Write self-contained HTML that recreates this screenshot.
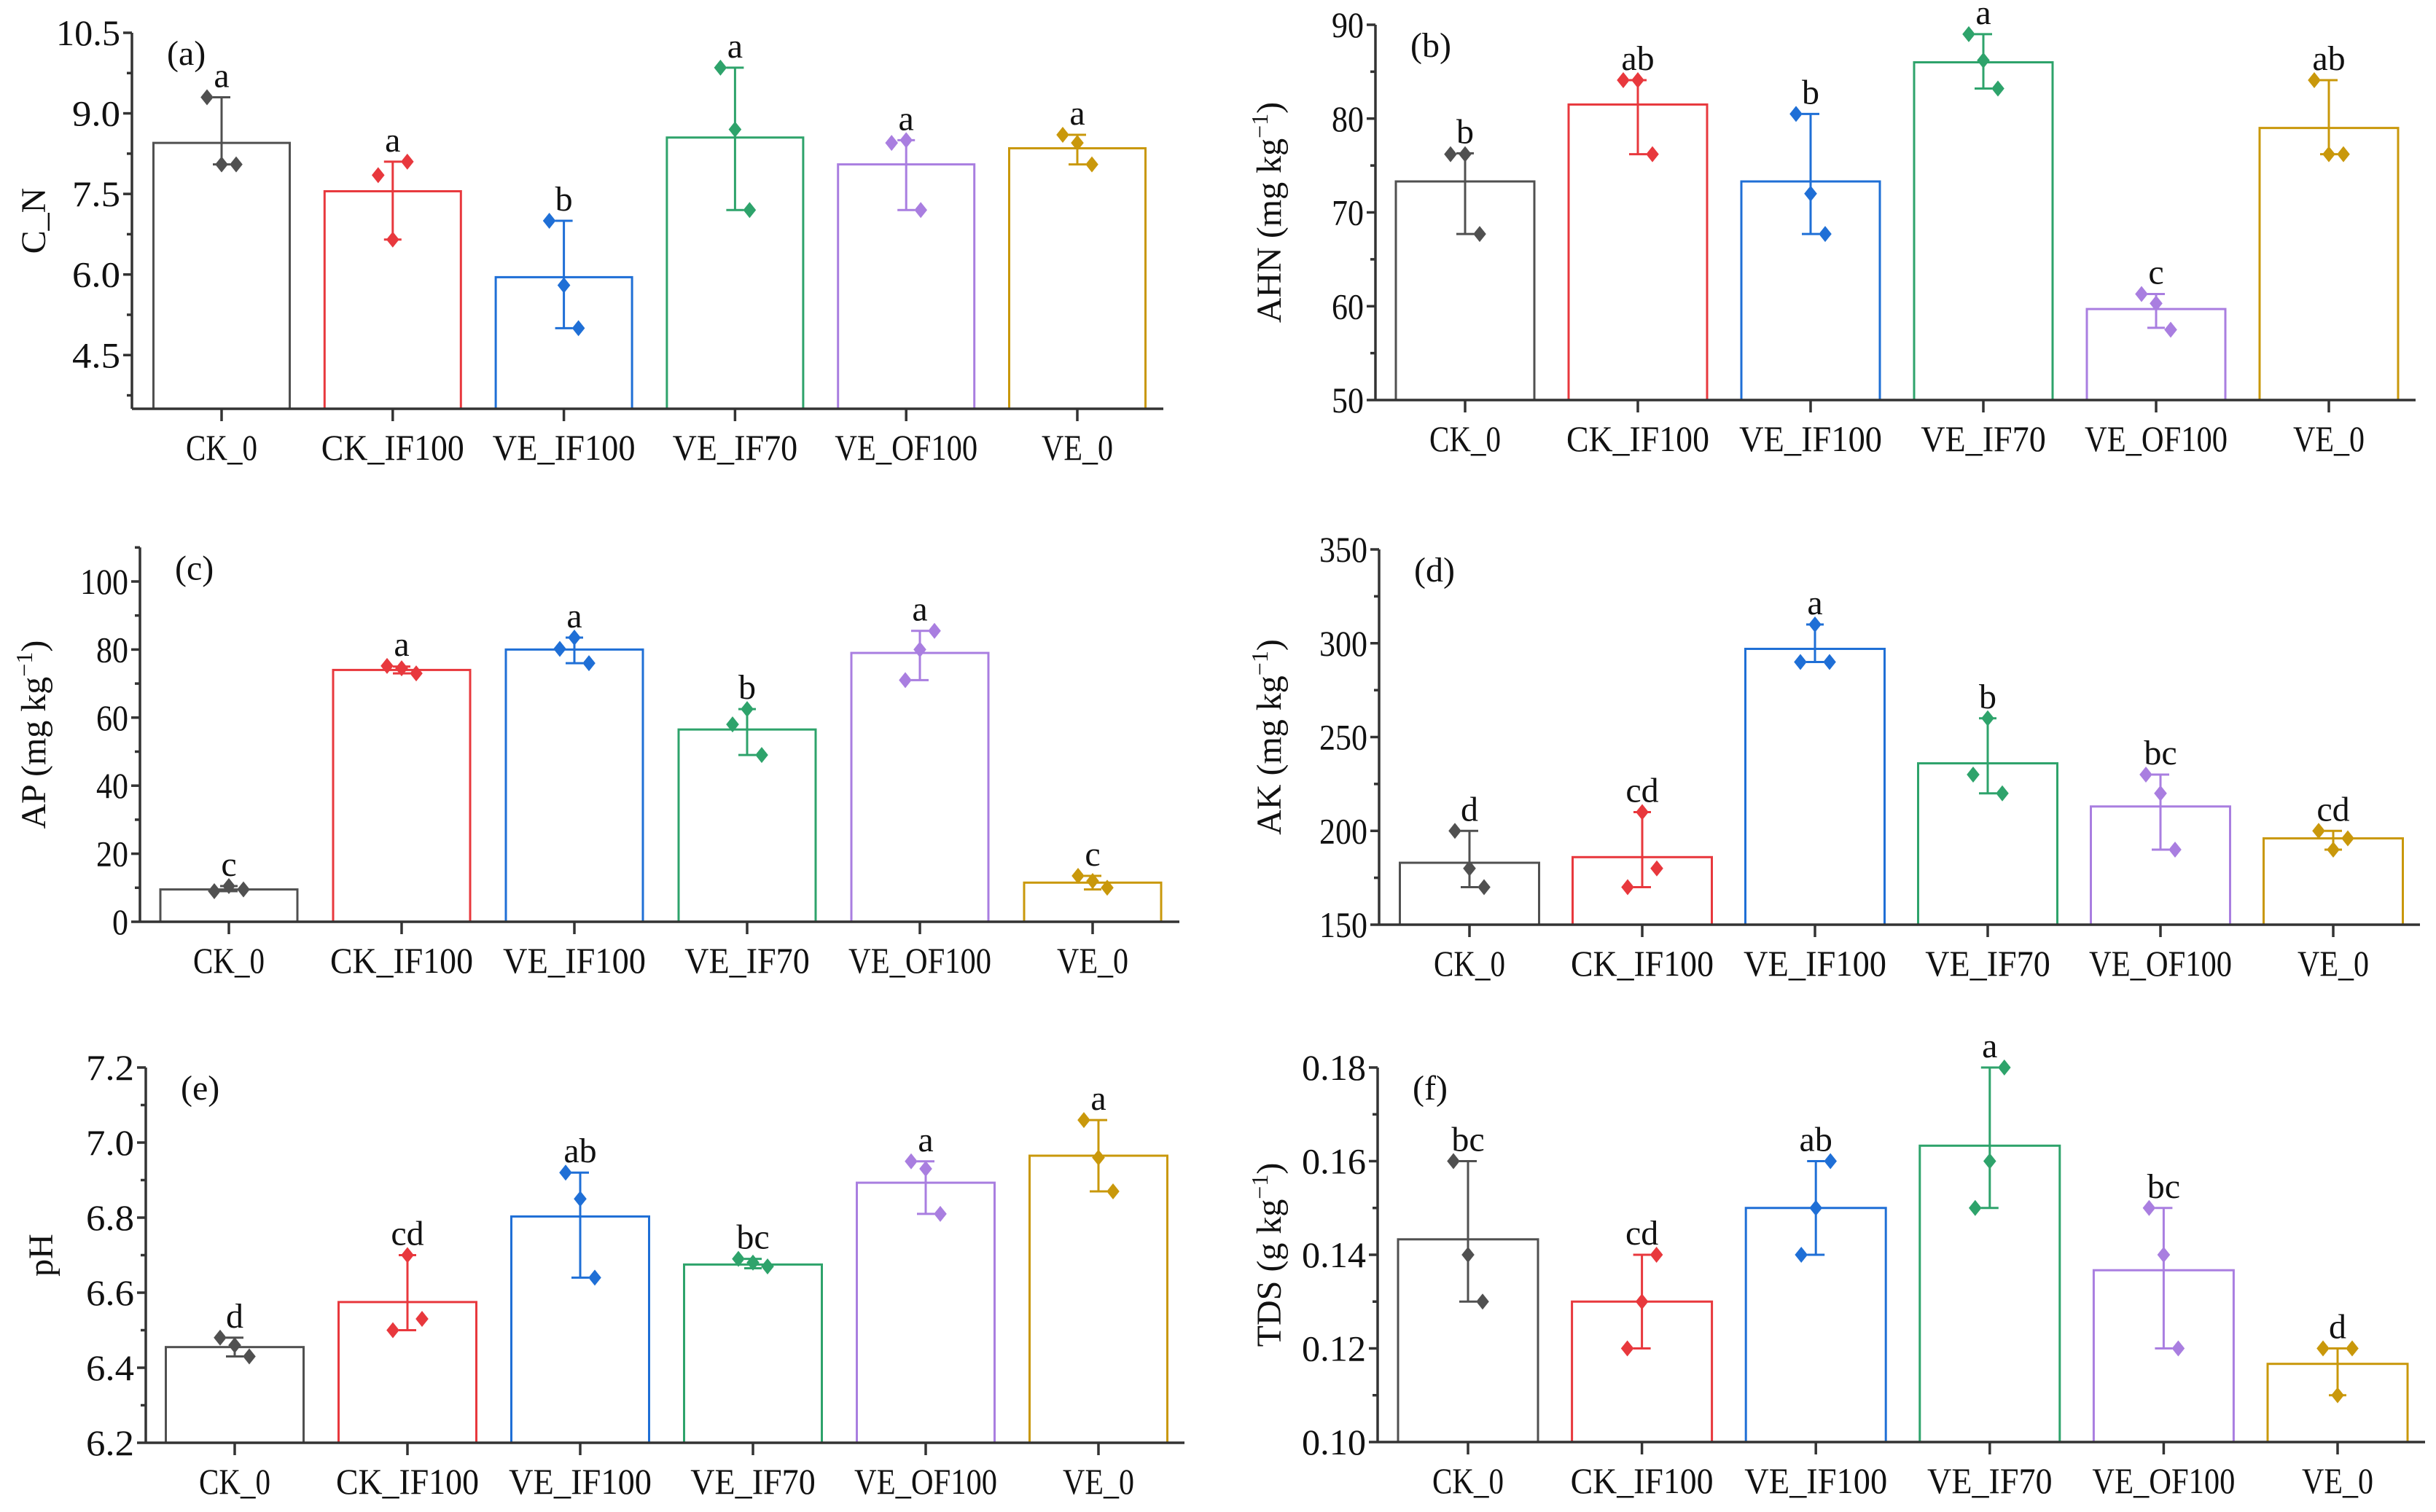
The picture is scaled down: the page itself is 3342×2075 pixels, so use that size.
<!DOCTYPE html>
<html><head><meta charset="utf-8"><style>
html,body{margin:0;padding:0;background:#fff;}
svg{display:block;}
text{font-family:"Liberation Serif","Noto Serif CJK SC",serif;fill:#111;}
</style></head><body>
<svg id="fig" xmlns="http://www.w3.org/2000/svg" width="3342" height="2075" viewBox="0 0 3342 2075"></svg>
<script>
const categories = ["CK_0","CK_IF100","VE_IF100","VE_IF70","VE_OF100","VE_0"];
const colors = ["#505050","#e8383d","#1f6fd6","#2ea36b","#a97ee0","#c9980b"];

// (a) C_N
const aMeans = [8.45,7.55,5.95,8.55,8.05,8.35];
const aPts = [[9.3,8.05,8.05],[7.85,6.65,8.1],[7.0,5.8,5.0],[9.85,8.7,7.2],[8.45,8.5,7.2],[8.6,8.45,8.05]];
const aErrHi = [9.3,8.1,7.0,9.85,8.5,8.6];
const aErrLo = [8.05,6.65,5.0,7.2,7.2,8.05];
const aLetters = ["a","a","b","a","a","a"];
const aTicks = [4.5,6.0,7.5,9.0,10.5];
const aTickLabels = ["4.5","6.0","7.5","9.0","10.5"];

// (b) AHN
const bMeans = [73.3,81.5,73.3,86.0,59.7,79.0];
const bPts = [[76.2,76.2,67.7],[84.1,84.1,76.2],[80.5,72.0,67.7],[89.0,86.2,83.2],[61.3,60.3,57.5],[84.1,76.2,76.2]];
const bErrHi = [76.3,84.1,80.5,89.0,61.3,84.1];
const bErrLo = [67.7,76.2,67.7,83.2,57.7,76.2];
const bLetters = ["b","ab","b","a","c","ab"];
const bTicks = [50,60,70,80,90];
const bTickLabels = ["50","60","70","80","90"];

// (c) AP
const cMeans = [9.5,74.0,80.0,56.5,79.0,11.5];
const cPts = [[9.0,10.5,9.5],[75.2,74.5,73.0],[80.2,83.5,76.0],[58.0,62.5,49.0],[71.0,80.0,85.5],[13.5,12.0,10.0]];
const cErrHi = [10.5,75.0,83.5,62.5,85.5,13.5];
const cErrLo = [9.0,73.0,76.0,49.0,71.0,9.5];
const cLetters = ["c","a","a","b","a","c"];
const cTicks = [0,20,40,60,80,100];
const cTickLabels = ["0","20","40","60","80","100"];

// (d) AK
const dMeans = [183,186,297,236,213,196];
const dPts = [[200,180,170],[170,210,180],[290,310,290],[230,260,220],[230,220,190],[200,190,196]];
const dErrHi = [200,210,310,260,230,200];
const dErrLo = [170,170,290,220,190,190];
const dLetters = ["d","cd","a","b","bc","cd"];
const dTicks = [150,200,250,300,350];
const dTickLabels = ["150","200","250","300","350"];

// (e) pH
const eMeans = [6.455,6.575,6.803,6.675,6.893,6.965];
const ePts = [[6.48,6.46,6.43],[6.50,6.70,6.53],[6.92,6.85,6.64],[6.69,6.68,6.67],[6.95,6.93,6.81],[7.06,6.96,6.87]];
const eErrHi = [6.48,6.70,6.92,6.69,6.95,7.06];
const eErrLo = [6.43,6.50,6.64,6.665,6.81,6.87];
const eLetters = ["d","cd","ab","bc","a","a"];
const eTicks = [6.2,6.4,6.6,6.8,7.0,7.2];
const eTickLabels = ["6.2","6.4","6.6","6.8","7.0","7.2"];

// (f) TDS
const fMeans = [0.1433,0.130,0.150,0.1633,0.1367,0.1167];
const fPts = [[0.16,0.14,0.13],[0.12,0.13,0.14],[0.14,0.15,0.16],[0.15,0.16,0.18],[0.15,0.14,0.12],[0.12,0.11,0.12]];
const fErrHi = [0.16,0.14,0.16,0.18,0.15,0.12];
const fErrLo = [0.13,0.12,0.14,0.15,0.12,0.11];
const fLetters = ["bc","cd","ab","a","bc","d"];
const fTicks = [0.10,0.12,0.14,0.16,0.18];
const fTickLabels = ["0.10","0.12","0.14","0.16","0.18"];

const NS="http://www.w3.org/2000/svg";
const svg=document.getElementById('fig');
function mk(tag,attrs,parent){const e=document.createElementNS(NS,tag);for(const k in attrs)e.setAttribute(k,attrs[k]);(parent||svg).appendChild(e);return e;}

const jit=[-20,0,20];

function panel(cfg){
  const g=mk('g',{});
  
  
  const y=v=>cfg.y0+(v-cfg.vmin)/(cfg.vmax-cfg.vmin)*(cfg.y1-cfg.y0);
  const x=i=>cfg.c0+i*cfg.step;
  const topV=cfg.vtop!==undefined?cfg.vtop:cfg.vmax;
  categories.forEach((c,i)=>{
    const r=mk('rect',{x:x(i)-cfg.bw/2,y:y(cfg.means[i]),width:cfg.bw,height:y(cfg.vmin)-y(cfg.means[i]),fill:'none',stroke:colors[i],'stroke-width':3});
    
    
    g.appendChild(r);
  });
  categories.forEach((c,i)=>{
    const eg=mk('g',{stroke:colors[i],'stroke-width':3},g);
    
    
    mk('line',{x1:x(i),x2:x(i),y1:y(cfg.hi[i]),y2:y(cfg.lo[i])},eg);
    mk('line',{x1:x(i)-12,x2:x(i)+12,y1:y(cfg.hi[i]),y2:y(cfg.hi[i])},eg);
    mk('line',{x1:x(i)-12,x2:x(i)+12,y1:y(cfg.lo[i]),y2:y(cfg.lo[i])},eg);
  });
  categories.forEach((c,i)=>{
    cfg.pts[i].forEach((v,k)=>{
      const px=x(i)+jit[k], py=y(v), s=11;
      const p=mk('path',{d:`M${px},${py-s}L${px+s*0.8},${py}L${px},${py+s}L${px-s*0.8},${py}Z`,fill:colors[i]},g);
      
      
    });
  });
  categories.forEach((c,i)=>{
    const t=mk('text',{x:x(i),y:y(Math.max(cfg.hi[i],...cfg.pts[i]))-14,'text-anchor':'middle','font-size':48},g);
    t.textContent=cfg.letters[i];
    
    
  });
  const ax=mk('g',{stroke:'#333','stroke-width':3.5},g);
  
  
  mk('line',{x1:cfg.ax,x2:cfg.ax,y1:y(topV),y2:y(cfg.vmin)},ax);
  mk('line',{x1:cfg.ax,x2:cfg.xend,y1:y(cfg.vmin),y2:y(cfg.vmin)},ax);
  categories.forEach((c,i)=>{mk('line',{x1:x(i),x2:x(i),y1:y(cfg.vmin),y2:y(cfg.vmin)+17},ax);});
  cfg.ticks.forEach((v,k)=>{
    mk('line',{x1:cfg.ax-12,x2:cfg.ax,y1:y(v),y2:y(v)},ax);
    if(k<cfg.ticks.length-1){const m=(v+cfg.ticks[k+1])/2;mk('line',{x1:cfg.ax-7,x2:cfg.ax,y1:y(m),y2:y(m)},ax);}
    const lbl=cfg.tickLabels[k];
    const t=mk('text',{x:cfg.ax-16,y:y(v)+17,'text-anchor':'end','font-size':50,textLength:lbl.length*22,lengthAdjust:'spacingAndGlyphs'},g);
    t.textContent=lbl;
    
    
  });
  if(topV>cfg.ticks[cfg.ticks.length-1]){const m=cfg.ticks[cfg.ticks.length-1]+(cfg.ticks[1]-cfg.ticks[0])/2;if(m<=topV)mk('line',{x1:cfg.ax-7,x2:cfg.ax,y1:y(m),y2:y(m)},ax);}
  if(cfg.vmin<cfg.ticks[0]){const m=cfg.ticks[0]-(cfg.ticks[1]-cfg.ticks[0])/2;if(m>=cfg.vmin)mk('line',{x1:cfg.ax-7,x2:cfg.ax,y1:y(m),y2:y(m)},ax);}
  categories.forEach((c,i)=>{
    const t=mk('text',{x:x(i),y:y(cfg.vmin)+70,'text-anchor':'middle','font-size':50,textLength:c.length*24.5,lengthAdjust:'spacingAndGlyphs'},g);
    t.textContent=c;
    
    
  });
  const lab=mk('text',{x:cfg.ax+48,y:y(topV)+44,'font-size':48},g);
  lab.textContent='('+cfg.id+')';
  
  
  const yt=mk('text',{x:0,y:0,'text-anchor':'middle','font-size':48,transform:`translate(${cfg.tx},${(y(topV)+y(cfg.vmin))/2}) rotate(-90)`},g);
  yt.innerHTML=cfg.title;
  
  
}
const unit=(n,u)=>`${n} (${u} kg<tspan dy="-18" font-size="32">−1</tspan><tspan dy="18">)</tspan>`;
panel({id:'a',means:aMeans,pts:aPts,hi:aErrHi,lo:aErrLo,letters:aLetters,ticks:aTicks,tickLabels:aTickLabels,vmin:3.5,vmax:10.5,y0:561,y1:45,ax:181,xend:1596,c0:304,step:234.8,bw:187,tx:62,title:'C_N'});
panel({id:'b',means:bMeans,pts:bPts,hi:bErrHi,lo:bErrLo,letters:bLetters,ticks:bTicks,tickLabels:bTickLabels,vmin:50,vmax:90,y0:549,y1:34,ax:1887,xend:3314,c0:2010,step:237,bw:190,tx:1757,title:unit('AHN','mg')});
panel({id:'c',means:cMeans,pts:cPts,hi:cErrHi,lo:cErrLo,letters:cLetters,ticks:cTicks,tickLabels:cTickLabels,vmin:0,vmax:100,vtop:110,y0:1265,y1:798,ax:192,xend:1618,c0:314,step:237,bw:188,tx:62,title:unit('AP','mg')});
panel({id:'d',means:dMeans,pts:dPts,hi:dErrHi,lo:dErrLo,letters:dLetters,ticks:dTicks,tickLabels:dTickLabels,vmin:150,vmax:350,y0:1269,y1:754,ax:1892,xend:3320,c0:2016,step:237,bw:191,tx:1757,title:unit('AK','mg')});
panel({id:'e',means:eMeans,pts:ePts,hi:eErrHi,lo:eErrLo,letters:eLetters,ticks:eTicks,tickLabels:eTickLabels,vmin:6.2,vmax:7.2,y0:1980,y1:1465,ax:200,xend:1625,c0:322,step:237,bw:189,tx:72,title:'pH'});
panel({id:'f',means:fMeans,pts:fPts,hi:fErrHi,lo:fErrLo,letters:fLetters,ticks:fTicks,tickLabels:fTickLabels,vmin:0.10,vmax:0.18,y0:1979,y1:1465,ax:1890,xend:3327,c0:2014,step:238.6,bw:192,tx:1757,title:unit('TDS','g')});
</script>
</body></html>
